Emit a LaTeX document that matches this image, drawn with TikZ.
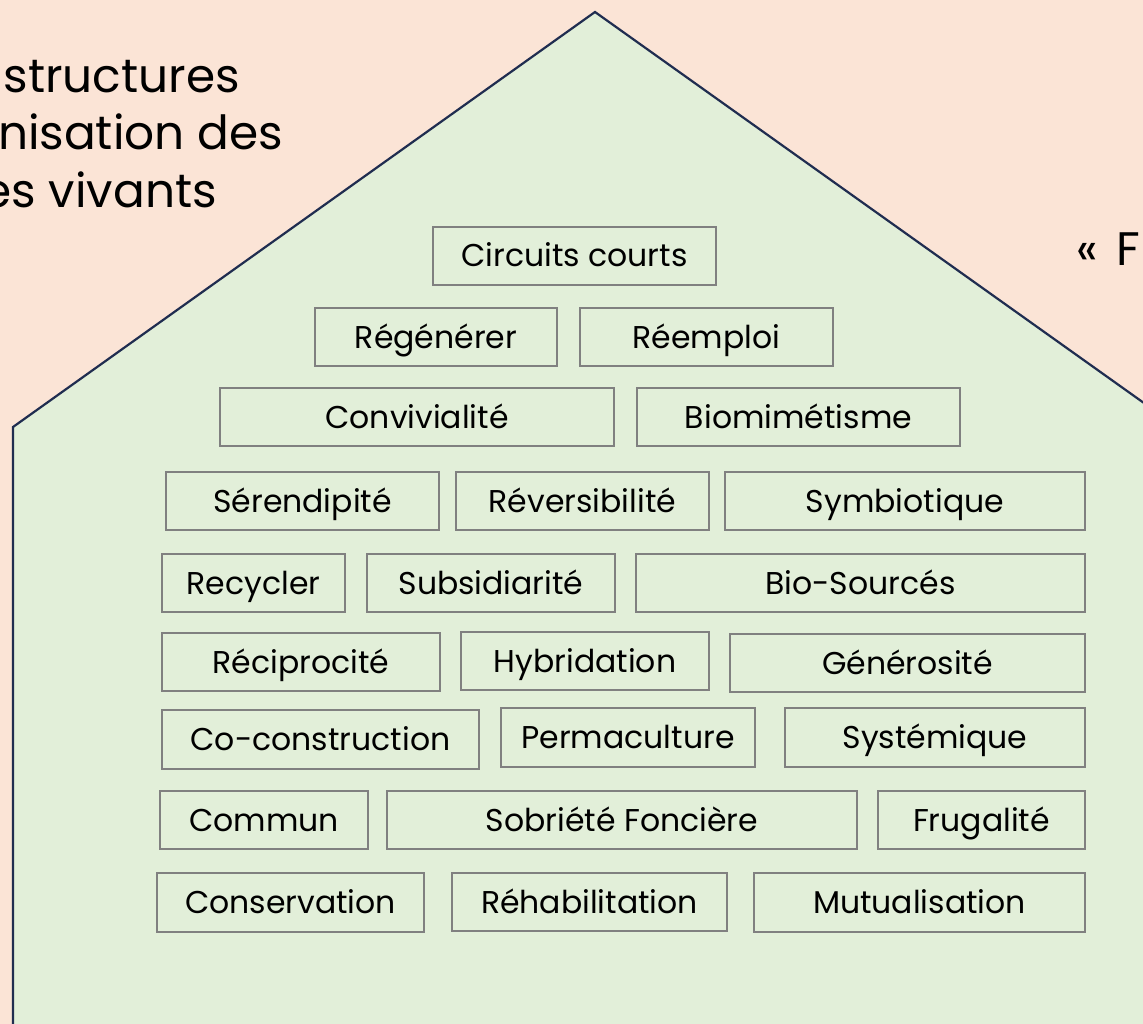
\documentclass[tikz,border=0pt]{standalone}
\usepackage{fontspec}
\setmainfont{Poppins}
\definecolor{peach}{RGB}{251,228,214}
\definecolor{leaf}{RGB}{226,239,217}
\definecolor{navy}{RGB}{32,45,80}
\definecolor{boxgray}{RGB}{128,128,128}
\tikzset{
  tag/.style={draw=boxgray, line width=1.6pt, inner sep=0pt, align=center,
    font=\fontsize{31.5}{36}\selectfont, text height=22pt, text depth=0pt},
  bigtxt/.style={inner sep=0pt, font=\fontsize{47}{56}\selectfont, text=black}
}
\begin{document}
\begin{tikzpicture}[x=1pt,y=-1pt]
\useasboundingbox (0,0) rectangle (1143,1024);
\clip (0,0) rectangle (1143,1024);
\fill[peach] (0,0) rectangle (1143,1024);
% house
\filldraw[fill=leaf, draw=navy, line width=2.2pt, line join=miter]
  (13,1040) -- (13,427) -- (595,12) -- (1165,418) -- (1165,1040);
% text outside
\node[bigtxt, anchor=base east] (t1) at (240,93) {structures};
\node[bigtxt, anchor=base east] (t2) at (283,150) {nisation des};
\node[bigtxt, anchor=base east] (t3) at (217,208) {es vivants};
\node[bigtxt, anchor=base west] (t4) at (1076,266) {«\hspace{6pt} F};
% boxes
\node[tag, minimum width=283, minimum height=58] (cc) at (574.5,256) {Circuits courts};
\node[tag, minimum width=242, minimum height=58] (reg) at (436,337) {Régénérer};
\node[tag, minimum width=253, minimum height=58] (reem) at (706.5,337) {Réemploi};
\node[tag, minimum width=394, minimum height=58] (conv) at (417,417) {Convivialité};
\node[tag, minimum width=323, minimum height=58] (bio) at (798.5,417) {Biomimétisme};
\node[tag, minimum width=273, minimum height=58] (ser) at (302.5,501) {Sérendipité};
\node[tag, minimum width=253, minimum height=58] (rev) at (582.5,501) {Réversibilité};
\node[tag, minimum width=360, minimum height=58] (sym) at (905,501) {Symbiotique};
\node[tag, minimum width=183, minimum height=58] (rec) at (253.5,583) {Recycler};
\node[tag, minimum width=248, minimum height=58] (sub) at (491,583) {Subsidiarité};
\node[tag, minimum width=449, minimum height=58] (bios) at (860.5,583) {Bio-Sourcés};
\node[tag, minimum width=278, minimum height=58] (reci) at (301,662) {Réciprocité};
\node[tag, minimum width=248, minimum height=58] (hyb) at (585,661) {Hybridation};
\node[tag, minimum width=355, minimum height=58] (gen) at (907.5,663) {Générosité};
\node[tag, minimum width=317, minimum height=59] (cocon) at (320.5,739.5) {Co-construction};
\node[tag, minimum width=254, minimum height=59] (perm) at (628,737.5) {Permaculture};
\node[tag, minimum width=300, minimum height=59] (sys) at (935,737.5) {Systémique};
\node[tag, minimum width=208, minimum height=58] (com) at (264,820) {Commun};
\node[tag, minimum width=470, minimum height=58] (sob) at (622,820) {Sobriété Foncière};
\node[tag, minimum width=207, minimum height=58] (fru) at (981.5,820) {Frugalité};
\node[tag, minimum width=267, minimum height=59] (cons) at (290.5,902.5) {Conservation};
\node[tag, minimum width=275, minimum height=58] (reh) at (589.5,902) {Réhabilitation};
\node[tag, minimum width=331, minimum height=59] (mut) at (919.5,902.5) {Mutualisation};
\end{tikzpicture}
\end{document}
